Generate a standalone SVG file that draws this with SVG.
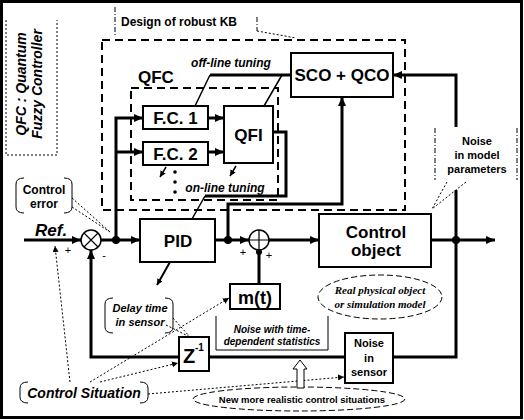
<svg xmlns="http://www.w3.org/2000/svg" width="524" height="420" viewBox="0 0 524 420">
<defs>
<marker id="ah" markerUnits="userSpaceOnUse" markerWidth="9" markerHeight="8" refX="9" refY="4" orient="auto"><path d="M0,0 L9,4 L0,8 z" fill="#000"/></marker>
<marker id="as" markerUnits="userSpaceOnUse" markerWidth="6" markerHeight="6" refX="6" refY="3" orient="auto"><path d="M0,0 L6,3 L0,6 z" fill="#000"/></marker>
<style>
.box{fill:#fff;stroke:#000;stroke-width:2}
.thick{fill:none;stroke:#000;stroke-width:3}
.med{fill:none;stroke:#000;stroke-width:2}
.thin{fill:none;stroke:#000;stroke-width:1.5}
.dash{fill:none;stroke:#000;stroke-width:2;stroke-dasharray:8 5}
.dashthin{fill:none;stroke:#000;stroke-width:1;stroke-dasharray:6 3}
.dashdot{fill:none;stroke:#000;stroke-width:1;stroke-dasharray:5 2 1 2}
.dot{fill:none;stroke:#000;stroke-width:1;stroke-dasharray:2 2}
.brk{fill:none;stroke:#000;stroke-width:1}
text{font-family:'Liberation Sans',Arial,sans-serif;font-weight:bold;fill:#000}
.i{font-style:italic}
.c{text-anchor:middle}
.serif{font-family:'Liberation Serif','Times New Roman',serif}
.sign{font-weight:normal}
</style>
</defs>
<rect x="0" y="0" width="524" height="420" fill="#fff"/>
<rect x="1.5" y="1.5" width="520" height="416" fill="none" stroke="#000" stroke-width="3"/>

<g id="qfc-legend">
<path class="dot" d="M6,20 V155 H57 V20"/>
<text class="i c" font-size="14" transform="translate(26,84) rotate(-90)">QFC : Quantum</text>
<text class="i c" font-size="14" transform="translate(42,84) rotate(-90)">Fuzzy Controller</text>
</g>

<g id="design-kb">
<path class="dashdot" d="M115,7 V35 M257,17 V31"/>
<path class="dot" d="M257,31 L296,38"/>
<text x="121" y="26" font-size="12">Design of robust KB</text>
<rect class="dash" x="102" y="40" width="303" height="170"/>
</g>

<g id="qfc-box">
<rect class="dash" x="131" y="88" width="147" height="112"/>
<text x="138" y="83" font-size="17">QFC</text>
</g>

<g id="connectors">
<path class="thick" d="M24,240 H81" marker-end="url(#ah)"/>
<path class="thick" d="M101,240 H140" marker-end="url(#ah)"/>
<path class="thick" d="M116,240 V118 H143" marker-end="url(#ah)"/>
<path class="thick" d="M116,152 H143" marker-end="url(#ah)"/>
<path class="thick" d="M208,118 H224" marker-end="url(#ah)"/>
<path class="thick" d="M208,152 H224" marker-end="url(#ah)"/>
<path class="thick" d="M273,132 H286 V196 H205"/>
<path class="thin" d="M205,196 L192,219"/>
<path class="thick" d="M291,75 H210"/>
<path class="thin" d="M210,75 L195,106 M282,75 L264,106"/>
<path class="thick" d="M215,240 H249" marker-end="url(#ah)"/>
<path class="thick" d="M228,240 V204 H342 V97" marker-end="url(#ah)"/>
<path class="thick" d="M269,240 H319" marker-end="url(#ah)"/>
<path class="thick" d="M259,284 V252"/>
<circle cx="259" cy="252" r="3"/>
<path class="thick" d="M431,240 H495" marker-end="url(#ah)"/>
<path class="thick" d="M456,127 V75 H393" marker-end="url(#ah)"/>
<path class="thick" d="M456,190 V357 H393"/>
<path class="thick" d="M345,357 H209"/>
<path class="thick" d="M179,357 H91 V250" marker-end="url(#ah)"/>
<circle cx="116" cy="240" r="4"/>
<circle cx="228" cy="240" r="4"/>
<circle cx="456" cy="240" r="4"/>
<path class="med" d="M170,262 L157,285" marker-end="url(#as)"/>
<path class="thin" d="M166,167 L160,177" marker-end="url(#as)"/>
<path class="thin" d="M236,166 L230,176" marker-end="url(#as)"/>
<path class="dot" d="M72,198 L110,232 M72,207 L110,232"/>
<path class="dot" d="M70,382 L55,246" marker-end="url(#as)"/>
<path class="dot" d="M90,382 L229,298" marker-end="url(#as)"/>
<path class="dot" d="M100,382 L178,363" marker-end="url(#as)"/>
<path class="dot" d="M148,394 L344,377" marker-end="url(#as)"/>
<path class="dot" d="M166,325 L190,337 M173,318 L190,337"/>
<path class="dot" d="M447,182 L432,209 M466,182 L432,209"/>
</g>

<g id="sum1">
<circle cx="91" cy="240" r="10" fill="#fff" stroke="#000" stroke-width="1.5"/>
<path d="M84,233 L98,247 M98,233 L84,247" stroke="#000" stroke-width="1.2"/>
<text x="68" y="254" font-size="11" class="sign c">+</text>
<text x="104" y="259" font-size="11" class="sign c">-</text>
</g>

<g id="sum2">
<circle cx="259" cy="240" r="10" fill="#fff" stroke="#000" stroke-width="1.5"/>
<path d="M249,240 H269 M259,230 V250" stroke="#000" stroke-width="1.2"/>
<text x="243" y="256" font-size="11" class="sign c">+</text>
<text x="269" y="259" font-size="11" class="sign c">+</text>
</g>

<g id="ref"><text x="35" y="236" font-size="17" class="i">Ref.</text></g>

<g id="control-error">
<path class="brk" d="M24,178 Q16,178 16,184 V207 Q16,213 24,213 M64,178 Q72,178 72,184 V207 Q72,213 64,213"/>
<text x="44" y="194" font-size="12" class="c">Control</text>
<text x="44" y="208" font-size="12" class="c">error</text>
</g>

<g id="fc1"><rect class="box" x="143" y="106" width="65" height="23"/><text x="175.5" y="124" font-size="17" class="c">F.C. 1</text></g>
<g id="fc2"><rect class="box" x="143" y="142" width="65" height="23"/><text x="175.5" y="160" font-size="17" class="c">F.C. 2</text></g>
<g id="qfi"><rect class="box" x="224" y="106" width="49" height="57"/><text x="248.5" y="141" font-size="17" class="c">QFI</text></g>
<g id="sco-qco"><rect class="box" x="291" y="53" width="102" height="44"/><text x="342" y="81" font-size="17" class="c">SCO + QCO</text></g>

<g id="tuning-labels">
<text x="231" y="67" font-size="12" class="i c">off-line tuning</text>
<circle cx="175" cy="172" r="1.8"/><circle cx="175" cy="182" r="1.8"/><circle cx="175" cy="192" r="1.8"/>
<text x="225" y="192" font-size="12" class="i c">on-line tuning</text>
</g>

<g id="pid"><rect class="box" x="140" y="219" width="75" height="43"/><text x="178" y="247" font-size="17" class="c">PID</text></g>
<g id="control-object"><rect class="box" x="319" y="214" width="112" height="53"/><text x="376" y="238" font-size="17" class="c">Control</text><text x="376" y="256" font-size="17" class="c">object</text></g>

<g id="noise-model">
<path class="dashdot" d="M435,128 V180 M517,128 V180"/>
<text x="477" y="145" font-size="11" class="c">Noise</text>
<text x="477" y="159" font-size="11" class="c">in model</text>
<text x="477" y="173" font-size="11" class="c">parameters</text>
</g>

<g id="real-object">
<ellipse class="dashthin" cx="380" cy="297" rx="62" ry="22"/>
<text x="380" y="294" font-size="11" class="serif i c">Real physical object</text>
<text x="380" y="308" font-size="11" class="serif i c">or simulation model</text>
</g>

<g id="mt"><rect class="box" x="230" y="284" width="50" height="25"/><text x="255" y="304" font-size="18" class="c">m(t)</text></g>
<g id="noise-stat">
<path class="brk" d="M216,316 V350 H328 V316"/>
<text x="272" y="333" font-size="10" class="i c">Noise with time-</text>
<text x="272" y="345" font-size="10" class="i c">dependent statistics</text>
</g>

<g id="delay">
<path class="brk" d="M113,298 Q105,298 105,304 V327 Q105,333 113,333 M165,298 Q173,298 173,304 V327 Q173,333 165,333"/>
<text x="140" y="312" font-size="11" class="i c">Delay time</text>
<text x="140" y="326" font-size="11" class="i c">in sensor</text>
</g>

<g id="z"><rect class="box" x="179" y="337" width="30" height="34"/><text x="183" y="363" font-size="20">Z</text><text x="195" y="351" font-size="10">-1</text></g>

<g id="noise-sensor">
<rect class="box" x="345" y="333" width="48" height="50"/>
<text x="369" y="347" font-size="11" class="c">Noise</text>
<text x="369" y="362" font-size="11" class="c">in</text>
<text x="369" y="376" font-size="11" class="c">sensor</text>
</g>

<g id="control-situation">
<path class="brk" d="M28,382 Q20,382 20,388 V397 Q20,403 28,403 M140,382 Q148,382 148,388 V397 Q148,403 140,403"/>
<text x="84" y="398" font-size="14" class="i c">Control Situation</text>
</g>

<g id="new-situations">
<ellipse class="dashthin" cx="299" cy="399" rx="106" ry="12"/>
<polygon points="297,388 297,369 293,369 300,360 307,369 304,369 304,388" fill="#fff" stroke="#000" stroke-width="1"/>
<text x="302" y="403" font-size="9.5" class="c">New more realistic control situations</text>
</g>
</svg>
